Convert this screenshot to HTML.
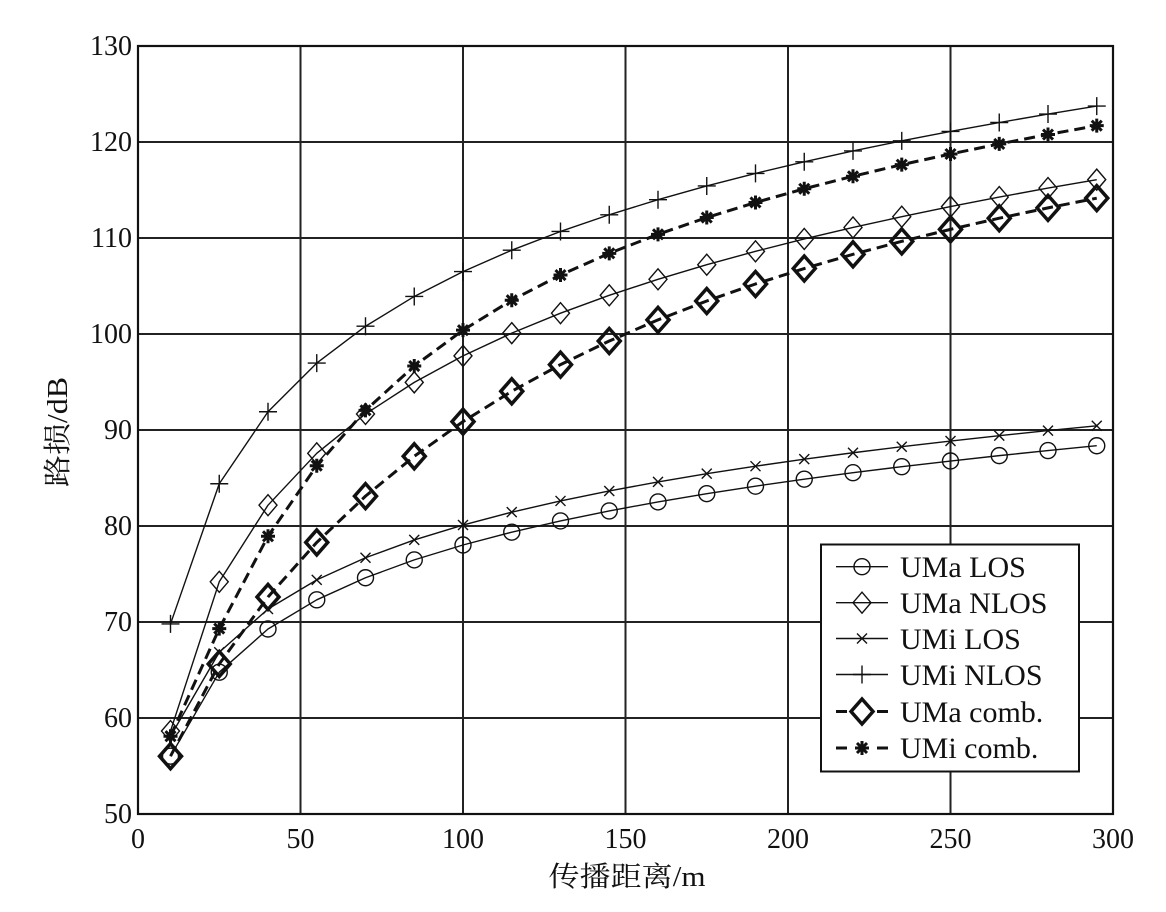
<!DOCTYPE html>
<html><head><meta charset="utf-8"><style>
html,body{margin:0;padding:0;background:#fff;}
svg{display:block;}
text{font-family:"Liberation Serif","Noto Serif CJK SC",serif;fill:#111;}
</style></head><body>
<svg width="1166" height="912" viewBox="0 0 1166 912" xmlns="http://www.w3.org/2000/svg">
<defs>
<g id="circ"><circle r="8" fill="none" stroke="#111" stroke-width="1.4"/></g>
<g id="dia"><path d="M0,-10.5L9,0L0,10.5L-9,0Z" fill="none" stroke="#111" stroke-width="1.4"/></g>
<g id="xm"><path d="M-5,-5L5,5M-5,5L5,-5" stroke="#111" stroke-width="1.4"/></g>
<g id="plus"><path d="M-9,0H9M0,-9V9" stroke="#111" stroke-width="1.4"/></g>
<g id="bdia"><path d="M0,-12.5L11,0L0,12.5L-11,0Z" fill="none" stroke="#111" stroke-width="3.5" stroke-linejoin="miter"/></g>
<g id="star"><path d="M-7,0H7M0,-7V7M-5,-5L5,5M-5,5L5,-5" stroke="#111" stroke-width="3"/></g>
</defs>
<rect width="1166" height="912" fill="#fff"/>
<!-- grid -->
<g stroke="#222" stroke-width="2">
<line x1="300.5" y1="46" x2="300.5" y2="814"/>
<line x1="463" y1="46" x2="463" y2="814"/>
<line x1="625.5" y1="46" x2="625.5" y2="814"/>
<line x1="788" y1="46" x2="788" y2="814"/>
<line x1="950.5" y1="46" x2="950.5" y2="814"/>
<line x1="138" y1="142" x2="1113" y2="142"/>
<line x1="138" y1="238" x2="1113" y2="238"/>
<line x1="138" y1="334" x2="1113" y2="334"/>
<line x1="138" y1="430" x2="1113" y2="430"/>
<line x1="138" y1="526" x2="1113" y2="526"/>
<line x1="138" y1="622" x2="1113" y2="622"/>
<line x1="138" y1="718" x2="1113" y2="718"/>
</g>
<rect x="138" y="46" width="975" height="768" fill="none" stroke="#111" stroke-width="2.2"/>
<!-- tick labels -->
<g font-size="28" text-anchor="end">
<text x="132" y="55">130</text>
<text x="132" y="151">120</text>
<text x="132" y="247">110</text>
<text x="132" y="343">100</text>
<text x="132" y="439">90</text>
<text x="132" y="535">80</text>
<text x="132" y="631">70</text>
<text x="132" y="727">60</text>
<text x="132" y="823">50</text>
</g>
<g font-size="28" text-anchor="middle">
<text x="138" y="848">0</text>
<text x="300.5" y="848">50</text>
<text x="463" y="848">100</text>
<text x="625.5" y="848">150</text>
<text x="788" y="848">200</text>
<text x="950.5" y="848">250</text>
<text x="1113" y="848">300</text>
</g>
<text x="627" y="886" font-size="28" text-anchor="middle" textLength="157" lengthAdjust="spacingAndGlyphs">传播距离/m</text>
<text transform="translate(67,432) rotate(-90)" font-size="28" text-anchor="middle" textLength="110" lengthAdjust="spacingAndGlyphs">路损/dB</text>

<!-- series lines -->
<g fill="none" stroke="#111" stroke-width="1.4" stroke-linejoin="round">
<polyline points="170.5,756.21 219.25,672.21 268,629 316.75,599.82 365.5,577.74 414.25,559.89 463,545.01 511.75,532.14 560.5,520.91 609.25,510.93 658,501.9 706.75,493.65 755.5,486.16 804.25,479.15 853,472.72 901.75,466.67 950.5,461.01 999.25,455.63 1048,450.54 1096.75,445.74"/>
<polyline points="170.5,731.06 219.25,581.78 268,505.17 316.75,453.33 365.5,413.97 414.25,382.38 463,355.89 511.75,333.14 560.5,313.17 609.25,295.31 658,279.28 706.75,264.69 755.5,251.34 804.25,238.96 853,227.44 901.75,216.69 950.5,206.61 999.25,197.1 1048,188.08 1096.75,179.63"/>
<polyline points="170.5,736.24 219.25,652.24 268,609.03 316.75,579.85 365.5,557.77 414.25,539.92 463,525.04 511.75,512.17 560.5,500.94 609.25,490.96 658,481.93 706.75,473.68 755.5,466.19 804.25,459.18 853,452.75 901.75,446.7 950.5,441.04 999.25,435.66 1048,430.57 1096.75,425.77"/>
<polyline points="170.5,623.92 219.25,483.76 268,411.76 316.75,363.09 365.5,326.22 414.25,296.46 463,271.6 511.75,250.19 560.5,231.47 609.25,214.77 658,199.7 706.75,185.97 755.5,173.39 804.25,161.78 853,150.93 901.75,140.85 950.5,131.44 999.25,122.51 1048,114.06 1096.75,106.1"/>
</g>
<g fill="none" stroke="#111" stroke-width="3" stroke-dasharray="11 6" stroke-linejoin="round">
<polyline points="170.5,756.21 219.25,663.95 268,596.94 316.75,542.42 365.5,496.14 414.25,456.3 463,421.65 511.75,391.31 560.5,364.62 609.25,341.01 658,319.89 706.75,300.98 755.5,283.98 804.25,268.53 853,254.32 901.75,241.36 950.5,229.36 999.25,218.22 1048,207.86 1096.75,198.16"/>
<polyline points="170.5,736.24 219.25,628.62 268,536.27 316.75,465.71 365.5,410.32 414.25,366.06 463,330.16 511.75,300.21 560.5,275.06 609.25,253.36 658,234.35 706.75,217.55 755.5,202.48 804.25,188.75 853,176.27 901.75,164.66 950.5,154 999.25,143.92 1048,134.51 1096.75,125.68"/>
</g>

<!-- markers: UMa LOS -->
<use href="#circ" x="170.5" y="756.21"/><use href="#circ" x="219.25" y="672.21"/><use href="#circ" x="268" y="629"/><use href="#circ" x="316.75" y="599.82"/><use href="#circ" x="365.5" y="577.74"/><use href="#circ" x="414.25" y="559.89"/><use href="#circ" x="463" y="545.01"/><use href="#circ" x="511.75" y="532.14"/><use href="#circ" x="560.5" y="520.91"/><use href="#circ" x="609.25" y="510.93"/><use href="#circ" x="658" y="501.9"/><use href="#circ" x="706.75" y="493.65"/><use href="#circ" x="755.5" y="486.16"/><use href="#circ" x="804.25" y="479.15"/><use href="#circ" x="853" y="472.72"/><use href="#circ" x="901.75" y="466.67"/><use href="#circ" x="950.5" y="461.01"/><use href="#circ" x="999.25" y="455.63"/><use href="#circ" x="1048" y="450.54"/><use href="#circ" x="1096.75" y="445.74"/>
<!-- UMa NLOS -->
<use href="#dia" x="170.5" y="731.06"/><use href="#dia" x="219.25" y="581.78"/><use href="#dia" x="268" y="505.17"/><use href="#dia" x="316.75" y="453.33"/><use href="#dia" x="365.5" y="413.97"/><use href="#dia" x="414.25" y="382.38"/><use href="#dia" x="463" y="355.89"/><use href="#dia" x="511.75" y="333.14"/><use href="#dia" x="560.5" y="313.17"/><use href="#dia" x="609.25" y="295.31"/><use href="#dia" x="658" y="279.28"/><use href="#dia" x="706.75" y="264.69"/><use href="#dia" x="755.5" y="251.34"/><use href="#dia" x="804.25" y="238.96"/><use href="#dia" x="853" y="227.44"/><use href="#dia" x="901.75" y="216.69"/><use href="#dia" x="950.5" y="206.61"/><use href="#dia" x="999.25" y="197.1"/><use href="#dia" x="1048" y="188.08"/><use href="#dia" x="1096.75" y="179.63"/>
<!-- UMi LOS -->
<use href="#xm" x="170.5" y="736.24"/><use href="#xm" x="219.25" y="652.24"/><use href="#xm" x="268" y="609.03"/><use href="#xm" x="316.75" y="579.85"/><use href="#xm" x="365.5" y="557.77"/><use href="#xm" x="414.25" y="539.92"/><use href="#xm" x="463" y="525.04"/><use href="#xm" x="511.75" y="512.17"/><use href="#xm" x="560.5" y="500.94"/><use href="#xm" x="609.25" y="490.96"/><use href="#xm" x="658" y="481.93"/><use href="#xm" x="706.75" y="473.68"/><use href="#xm" x="755.5" y="466.19"/><use href="#xm" x="804.25" y="459.18"/><use href="#xm" x="853" y="452.75"/><use href="#xm" x="901.75" y="446.7"/><use href="#xm" x="950.5" y="441.04"/><use href="#xm" x="999.25" y="435.66"/><use href="#xm" x="1048" y="430.57"/><use href="#xm" x="1096.75" y="425.77"/>
<!-- UMi NLOS -->
<use href="#plus" x="170.5" y="623.92"/><use href="#plus" x="219.25" y="483.76"/><use href="#plus" x="268" y="411.76"/><use href="#plus" x="316.75" y="363.09"/><use href="#plus" x="365.5" y="326.22"/><use href="#plus" x="414.25" y="296.46"/><use href="#plus" x="463" y="271.6"/><use href="#plus" x="511.75" y="250.19"/><use href="#plus" x="560.5" y="231.47"/><use href="#plus" x="609.25" y="214.77"/><use href="#plus" x="658" y="199.7"/><use href="#plus" x="706.75" y="185.97"/><use href="#plus" x="755.5" y="173.39"/><use href="#plus" x="804.25" y="161.78"/><use href="#plus" x="853" y="150.93"/><use href="#plus" x="901.75" y="140.85"/><use href="#plus" x="950.5" y="131.44"/><use href="#plus" x="999.25" y="122.51"/><use href="#plus" x="1048" y="114.06"/><use href="#plus" x="1096.75" y="106.1"/>
<!-- UMa comb -->
<use href="#bdia" x="170.5" y="756.21"/><use href="#bdia" x="219.25" y="663.95"/><use href="#bdia" x="268" y="596.94"/><use href="#bdia" x="316.75" y="542.42"/><use href="#bdia" x="365.5" y="496.14"/><use href="#bdia" x="414.25" y="456.3"/><use href="#bdia" x="463" y="421.65"/><use href="#bdia" x="511.75" y="391.31"/><use href="#bdia" x="560.5" y="364.62"/><use href="#bdia" x="609.25" y="341.01"/><use href="#bdia" x="658" y="319.89"/><use href="#bdia" x="706.75" y="300.98"/><use href="#bdia" x="755.5" y="283.98"/><use href="#bdia" x="804.25" y="268.53"/><use href="#bdia" x="853" y="254.32"/><use href="#bdia" x="901.75" y="241.36"/><use href="#bdia" x="950.5" y="229.36"/><use href="#bdia" x="999.25" y="218.22"/><use href="#bdia" x="1048" y="207.86"/><use href="#bdia" x="1096.75" y="198.16"/>
<!-- UMi comb -->
<use href="#star" x="170.5" y="736.24"/><use href="#star" x="219.25" y="628.62"/><use href="#star" x="268" y="536.27"/><use href="#star" x="316.75" y="465.71"/><use href="#star" x="365.5" y="410.32"/><use href="#star" x="414.25" y="366.06"/><use href="#star" x="463" y="330.16"/><use href="#star" x="511.75" y="300.21"/><use href="#star" x="560.5" y="275.06"/><use href="#star" x="609.25" y="253.36"/><use href="#star" x="658" y="234.35"/><use href="#star" x="706.75" y="217.55"/><use href="#star" x="755.5" y="202.48"/><use href="#star" x="804.25" y="188.75"/><use href="#star" x="853" y="176.27"/><use href="#star" x="901.75" y="164.66"/><use href="#star" x="950.5" y="154"/><use href="#star" x="999.25" y="143.92"/><use href="#star" x="1048" y="134.51"/><use href="#star" x="1096.75" y="125.68"/>

<!-- legend -->
<rect x="821" y="544.5" width="258" height="227" fill="#fff" stroke="#111" stroke-width="2"/>
<g stroke="#111" stroke-width="1.4">
<line x1="836" y1="566.7" x2="888" y2="566.7"/>
<line x1="836" y1="602.7" x2="888" y2="602.7"/>
<line x1="836" y1="638.5" x2="888" y2="638.5"/>
<line x1="836" y1="674.5" x2="888" y2="674.5"/>
</g>
<g stroke="#111" stroke-width="3">
<line x1="836" y1="711.5" x2="847" y2="711.5"/><line x1="877" y1="711.5" x2="888" y2="711.5"/>
<line x1="836" y1="748" x2="847" y2="748"/><line x1="877" y1="748" x2="888" y2="748"/>
</g>
<use href="#circ" x="862" y="566.7"/>
<use href="#dia" x="862" y="602.7"/>
<use href="#xm" x="862" y="638.5"/>
<use href="#plus" x="862" y="674.5"/>
<use href="#bdia" x="862" y="711.5"/>
<use href="#star" x="862" y="748"/>
<g font-size="30">
<text x="900" y="577">UMa LOS</text>
<text x="900" y="613">UMa NLOS</text>
<text x="900" y="649">UMi LOS</text>
<text x="900" y="685">UMi NLOS</text>
<text x="900" y="722">UMa comb.</text>
<text x="900" y="758">UMi comb.</text>
</g>
</svg>
</body></html>
